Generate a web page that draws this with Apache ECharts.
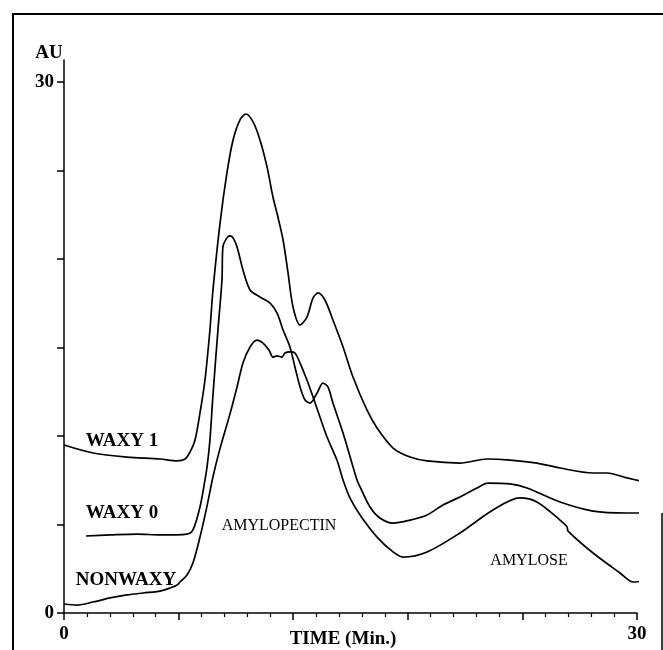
<!DOCTYPE html>
<html><head><meta charset="utf-8">
<script src="https://cdn.jsdelivr.net/npm/echarts@6/dist/echarts.min.js"></script>
<style>html,body{margin:0;padding:0;background:#fff}#c{width:663px;height:650px}</style>
</head><body><div id="c"></div>
<script>
// WAXY 1 trace (time in min, absorbance AU)
const waxy1Time = [0, 1.52, 3.30, 5.03, 5.92, 6.34, 6.60, 6.86, 7.12, 7.38, 7.64, 7.80, 8.17, 8.53, 8.85, 9.21, 9.53, 9.90, 10.26, 10.63, 10.94, 11.20, 11.47, 11.73, 11.99, 12.36, 12.72, 13.04, 13.30, 13.66, 14.08, 14.61, 15.13, 15.86, 16.39, 17.23, 18.12, 19.01, 20.73, 22.15, 23.35, 24.76, 25.97, 27.70, 28.43, 29.48, 30.42];
const waxy1AU   = [9.49, 9.04, 8.81, 8.70, 8.59, 8.70, 9.10, 9.77, 11.30, 13.16, 15.99, 18.25, 22.03, 24.86, 26.72, 27.85, 28.19, 27.74, 26.72, 25.20, 23.50, 22.37, 21.07, 19.21, 17.29, 16.27, 16.72, 17.80, 18.08, 17.68, 16.55, 15.03, 13.33, 11.47, 10.45, 9.32, 8.81, 8.59, 8.47, 8.70, 8.64, 8.47, 8.19, 7.91, 7.91, 7.63, 7.40];

// WAXY 0 trace
const waxy0Time = [1.15, 2.41, 3.82, 5.03, 6.44, 6.75, 7.12, 7.38, 7.49, 7.64, 7.80, 8.06, 8.27, 8.32, 8.53, 8.69, 8.85, 9.06, 9.37, 9.74, 10.26, 10.79, 11.15, 11.47, 11.83, 12.09, 12.36, 12.62, 12.88, 13.25, 13.56, 13.82, 14.08, 14.61, 15.34, 15.50, 16.02, 16.54, 17.23, 18.12, 19.01, 19.84, 20.73, 21.62, 22.20, 23.35, 24.24, 25.97, 27.70, 29.48, 31.31];
const waxy0AU   = [4.35, 4.41, 4.46, 4.41, 4.46, 4.69, 5.99, 7.51, 8.25, 9.77, 12.32, 15.99, 18.81, 20.68, 21.19, 21.30, 21.19, 20.68, 19.38, 18.25, 17.85, 17.51, 16.95, 15.99, 15.03, 13.90, 12.77, 12.03, 11.86, 12.43, 12.99, 12.77, 11.86, 10.17, 7.51, 7.12, 5.99, 5.37, 5.08, 5.25, 5.54, 6.10, 6.55, 7.06, 7.34, 7.29, 7.06, 6.27, 5.76, 5.65, 5.65];

// NONWAXY trace
const nonwaxyTime = [0, 0.68, 1.52, 2.41, 3.30, 4.14, 5.03, 5.55, 5.92, 6.07, 6.44, 6.75, 7.12, 7.49, 7.80, 8.17, 8.69, 9.06, 9.37, 9.74, 10.10, 10.42, 10.73, 10.94, 11.15, 11.41, 11.57, 11.83, 12.09, 12.36, 12.72, 13.04, 13.40, 13.77, 14.29, 14.61, 14.97, 15.50, 16.39, 17.23, 17.75, 19.01, 20.73, 22.46, 23.87, 24.76, 25.97, 26.34, 26.39, 27.70, 29.11, 29.79, 30.31];
const nonwaxyAU   = [0.51, 0.45, 0.62, 0.85, 1.02, 1.13, 1.24, 1.41, 1.58, 1.75, 2.15, 2.82, 4.29, 6.05, 7.70, 9.30, 11.25, 12.77, 14.12, 15.03, 15.42, 15.25, 14.86, 14.46, 14.52, 14.46, 14.69, 14.75, 14.69, 14.12, 13.16, 12.20, 11.07, 9.94, 8.64, 7.51, 6.50, 5.54, 4.29, 3.45, 3.16, 3.45, 4.52, 5.82, 6.50, 6.27, 5.25, 4.86, 4.63, 3.39, 2.26, 1.75, 1.81];

const yTickValues = [0, 5, 10, 15, 20, 25, 30];
const yLabelValues = [0, 30];
const xLabelValues = [0, 30];

function pairs(t, v) { return t.map((x, i) => [x, v[i]]); }

const FONT = 'Liberation Serif, Times New Roman, serif';
const chart = echarts.init(document.getElementById('c'), null, {renderer: 'canvas'});
const traceStyle = {color: '#000', width: 1.7};
function trace(name, t, v) {
  return {name, type: 'line', data: pairs(t, v), showSymbol: false, symbol: 'none',
    smooth: 0.3, clip: false, lineStyle: traceStyle, itemStyle: {color: '#000'}};
}

chart.setOption({
  animation: false,
  backgroundColor: '#fff',
  grid: {left: 64, right: 26, top: 60, bottom: 37},
  xAxis: {
    type: 'value', min: 0, max: 30, interval: 6,
    axisLine: {lineStyle: {color: '#000', width: 1.5}},
    axisTick: {length: 7, lineStyle: {color: '#000', width: 1.5}},
    minorTick: {show: true, splitNumber: 5, length: 4, lineStyle: {color: '#000', width: 1.2}},
    splitLine: {show: false},
    axisLabel: {customValues: xLabelValues, color: '#000', fontFamily: FONT, fontWeight: 'bold', fontSize: 19, margin: 12}
  },
  yAxis: {
    type: 'value', min: 0, max: 31.24,
    axisLine: {show: true, lineStyle: {color: '#000', width: 1.5}},
    axisTick: {show: true, customValues: yTickValues, length: 7, lineStyle: {color: '#000', width: 1.5}},
    splitLine: {show: false},
    axisLabel: {customValues: yLabelValues, color: '#000', fontFamily: FONT, fontWeight: 'bold', fontSize: 19, margin: 10}
  },
  series: [
    trace('WAXY 1', waxy1Time, waxy1AU),
    trace('WAXY 0', waxy0Time, waxy0AU),
    trace('NONWAXY', nonwaxyTime, nonwaxyAU)
  ],
  graphic: [
    {type: 'polyline', shape: {points: [[13, 650], [13, 14], [663, 14]]}, style: {stroke: '#000', lineWidth: 2, fill: null}},
    {type: 'line', shape: {x1: 662, y1: 513, x2: 662, y2: 650}, style: {stroke: '#000', lineWidth: 1.5}},
    {type: 'text', style: {text: 'AU', x: 49, y: 53, align: 'center', verticalAlign: 'middle', font: 'bold 19px ' + FONT, fill: '#000'}},
    {type: 'text', style: {text: 'WAXY 1', x: 122, y: 441, align: 'center', verticalAlign: 'middle', font: 'bold 19px ' + FONT, fill: '#000'}},
    {type: 'text', style: {text: 'WAXY 0', x: 122, y: 513, align: 'center', verticalAlign: 'middle', font: 'bold 19px ' + FONT, fill: '#000'}},
    {type: 'text', style: {text: 'NONWAXY', x: 126, y: 580, align: 'center', verticalAlign: 'middle', font: 'bold 19px ' + FONT, fill: '#000'}},
    {type: 'text', style: {text: 'AMYLOPECTIN', x: 279, y: 526, align: 'center', verticalAlign: 'middle', font: '16px ' + FONT, fill: '#000'}},
    {type: 'text', style: {text: 'AMYLOSE', x: 529, y: 561, align: 'center', verticalAlign: 'middle', font: '16px ' + FONT, fill: '#000'}},
    {type: 'text', style: {text: 'TIME (Min.)', x: 343, y: 639, align: 'center', verticalAlign: 'middle', font: 'bold 19px ' + FONT, fill: '#000'}}
  ]
});
</script>
</body></html>
